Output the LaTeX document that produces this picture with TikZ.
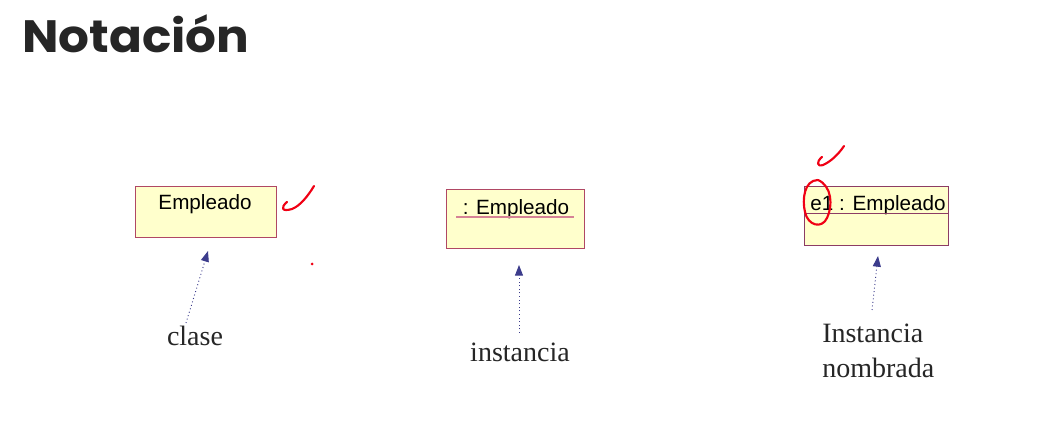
\documentclass[tikz,border=0pt]{standalone}
\usepackage{fontspec}
\setmainfont{Liberation Serif}
\newfontfamily\boxfont{Liberation Sans}
\newfontfamily\titlefont{Poppins}[UprightFont=* Bold]
\usetikzlibrary{arrows.meta}
\definecolor{boxfill}{RGB}{255,255,204}
\definecolor{boxline}{RGB}{176,72,100}
\definecolor{boxline3}{RGB}{140,60,100}
\definecolor{ulpink}{RGB}{214,130,150}
\definecolor{arrowblue}{RGB}{60,60,140}
\definecolor{titlegray}{RGB}{38,38,38}
\definecolor{checkred}{RGB}{240,0,20}
\begin{document}
\begin{tikzpicture}[x=0.75pt,y=-0.75pt,
  umlbox/.style={draw=boxline,fill=boxfill,line width=0.8pt,inner sep=0pt},
  boxtext/.style={font=\boxfont\fontsize{15.5}{18}\selectfont,inner sep=0pt,anchor=base},
  lbl/.style={font=\fontsize{21}{26}\selectfont,text=black!85,inner sep=0pt},
  depend/.style={dotted,line width=0.7pt,draw=arrowblue,-{Triangle[length=8pt,width=6pt]}},
  check/.style={draw=checkred,line width=1.6pt,line cap=round,line join=round}]
\useasboundingbox (0,0) rectangle (1050,438);
\fill[white] (0,0) rectangle (1050,438);
% title
\node[anchor=base west,inner sep=0pt,font=\titlefont\fontsize{34}{40}\selectfont,text=titlegray] (title) at (22,53) {\scalebox{1.07}[1]{Notación}};
% box 1
\node[umlbox,minimum width=105.75pt,minimum height=38.25pt,anchor=north west] (b1) at (135,186) {};
\node[boxtext] (t1) at (205,210) {Empleado};
% box 2
\node[umlbox,minimum width=103.5pt,minimum height=44.25pt,anchor=north west] (b2) at (446,189) {};
\node[boxtext] (t2) at (516,215) {: Empleado};
\draw[ulpink,line width=0.8pt] (456,217) -- (574,217);
% box 3
\node[umlbox,draw=boxline3,minimum width=108pt,minimum height=44.25pt,anchor=north west] (b3) at (804,186) {};
\node[boxtext] (t3) at (878,211) {e1 : Empleado};
\draw[boxline3,line width=0.8pt] (806,213.5) -- (948,213.5);
% arrows
\coordinate (a1s) at (186,323); \coordinate (a1e) at (208,251);
\coordinate (a2s) at (519,333); \coordinate (a2e) at (519,265);
\coordinate (a3s) at (872,310); \coordinate (a3e) at (878,256);
\draw[depend] (a1s) -- (a1e);
\draw[depend] (a2s) -- (a2e);
\draw[depend] (a3s) -- (a3e);
% labels
\node[lbl] (l1) at (195,336) {clase};
\node[lbl] (l2) at (520,352) {instancia};
\node[lbl,anchor=west,align=left] (l3) at (822,351) {Instancia\\nombrada};
% red marks
\draw[check] (287,202) .. controls (280,208) and (282,212) .. (292,209) .. controls (300,206) and (308,196) .. (314,186);
\fill[checkred] (312,264) circle (1.5);
\draw[check] (822,157) .. controls (816,162) and (817,167) .. (823,165) .. controls (830,162) and (838,155) .. (844,146);
\draw[check] (818,180) .. controls (804,180) and (802,200) .. (805,212) .. controls (808,226) and (822,229) .. (827,218) .. controls (833,206) and (832,186) .. (818,180);
\end{tikzpicture}
\end{document}
